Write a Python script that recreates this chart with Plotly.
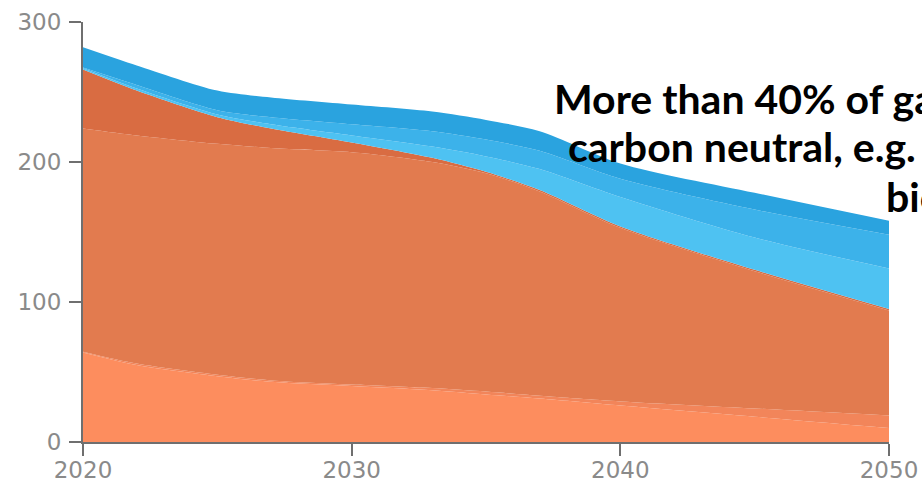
import plotly.graph_objects as go

years = [2020, 2022, 2025, 2027, 2030, 2033, 2035, 2037, 2040, 2045, 2050]

# stacked layer contributions, bottom to top
orange_light = [64, 55, 47, 43, 40, 37, 34, 31, 26, 18, 10]
orange_thin = [0.5, 1, 1, 1, 1, 1.5, 2, 2, 3, 6, 9]
orange_main = [159.5, 163, 165, 166, 166, 161.5, 156, 146, 124, 98, 75]
orange_dark = [42, 32, 19, 14, 7, 3, 1, 1, 1, 1, 1]
blue_light = [1, 1.5, 2, 3, 5, 8, 11, 15, 21, 23, 29]
blue_mid = [0.5, 2.5, 3, 5, 8, 11, 12, 13, 13, 20, 24]
blue_dark = [14.5, 14, 14, 14, 14, 14, 14, 14, 11, 12, 10]

series = [
    ("orange_light", orange_light, "#FD8D5E"),
    ("orange_thin", orange_thin, "#F2855A"),
    ("orange_main", orange_main, "#E27B4F"),
    ("orange_dark", orange_dark, "#D96C42"),
    ("blue_light", blue_light, "#4EC2F2"),
    ("blue_mid", blue_mid, "#3CB2EA"),
    ("blue_dark", blue_dark, "#2AA3DF"),
]

x_ticks = [2020, 2030, 2040, 2050]
y_ticks = [0, 100, 200, 300]

text_lines = ["More than 40% of gas is", "carbon neutral, e.g. synthetic", "biomethane"]

fig = go.Figure()
for name, vals, col in series:
    fig.add_trace(go.Scatter(
        x=years, y=vals, name=name, mode="lines", stackgroup="one",
        line=dict(width=0, shape="spline", smoothing=0.8, color=col),
        fillcolor=col, hoverinfo="skip", showlegend=False,
    ))

W, H = 922, 482
ml, mr, mt, mb = 83, 33, 22, 40
pw, ph = W - ml - mr, H - mt - mb

def px_x(p):
    return (p - ml) / pw

def px_y(p):
    return (H - mb - p) / ph

line_pos = [(553, 112), (567, 160), (885, 210)]
for txt, (lx, by) in zip(text_lines, line_pos):
    fig.add_annotation(
        text="<b>" + txt + "</b>", xref="paper", yref="paper",
        x=px_x(lx), y=px_y(by - 14), xanchor="left", yanchor="middle",
        showarrow=False, font=dict(family="Lato", size=41, color="#000000"),
        borderpad=0,
    )

axis_common = dict(
    showgrid=False, zeroline=False, showline=True, linecolor="#6f6f6f", linewidth=2,
    ticks="outside", ticklen=12, tickwidth=2, tickcolor="#6f6f6f", automargin=False,
    tickfont=dict(family="DejaVu Sans", size=23, color="#8a8a8a"),
)
fig.update_xaxes(range=[2020, 2050], tickvals=x_ticks, ticktext=[str(v) for v in x_ticks],
                 ticklabelstandoff=-6, **axis_common)
fig.update_yaxes(range=[0, 300], tickvals=y_ticks, ticktext=[str(v) for v in y_ticks],
                 ticklabelstandoff=3, **axis_common)

fig.update_layout(
    width=W, height=H, margin=dict(l=ml, r=mr, t=mt, b=mb, autoexpand=False),
    paper_bgcolor="white", plot_bgcolor="white",
)
fig.write_html("out.html")
